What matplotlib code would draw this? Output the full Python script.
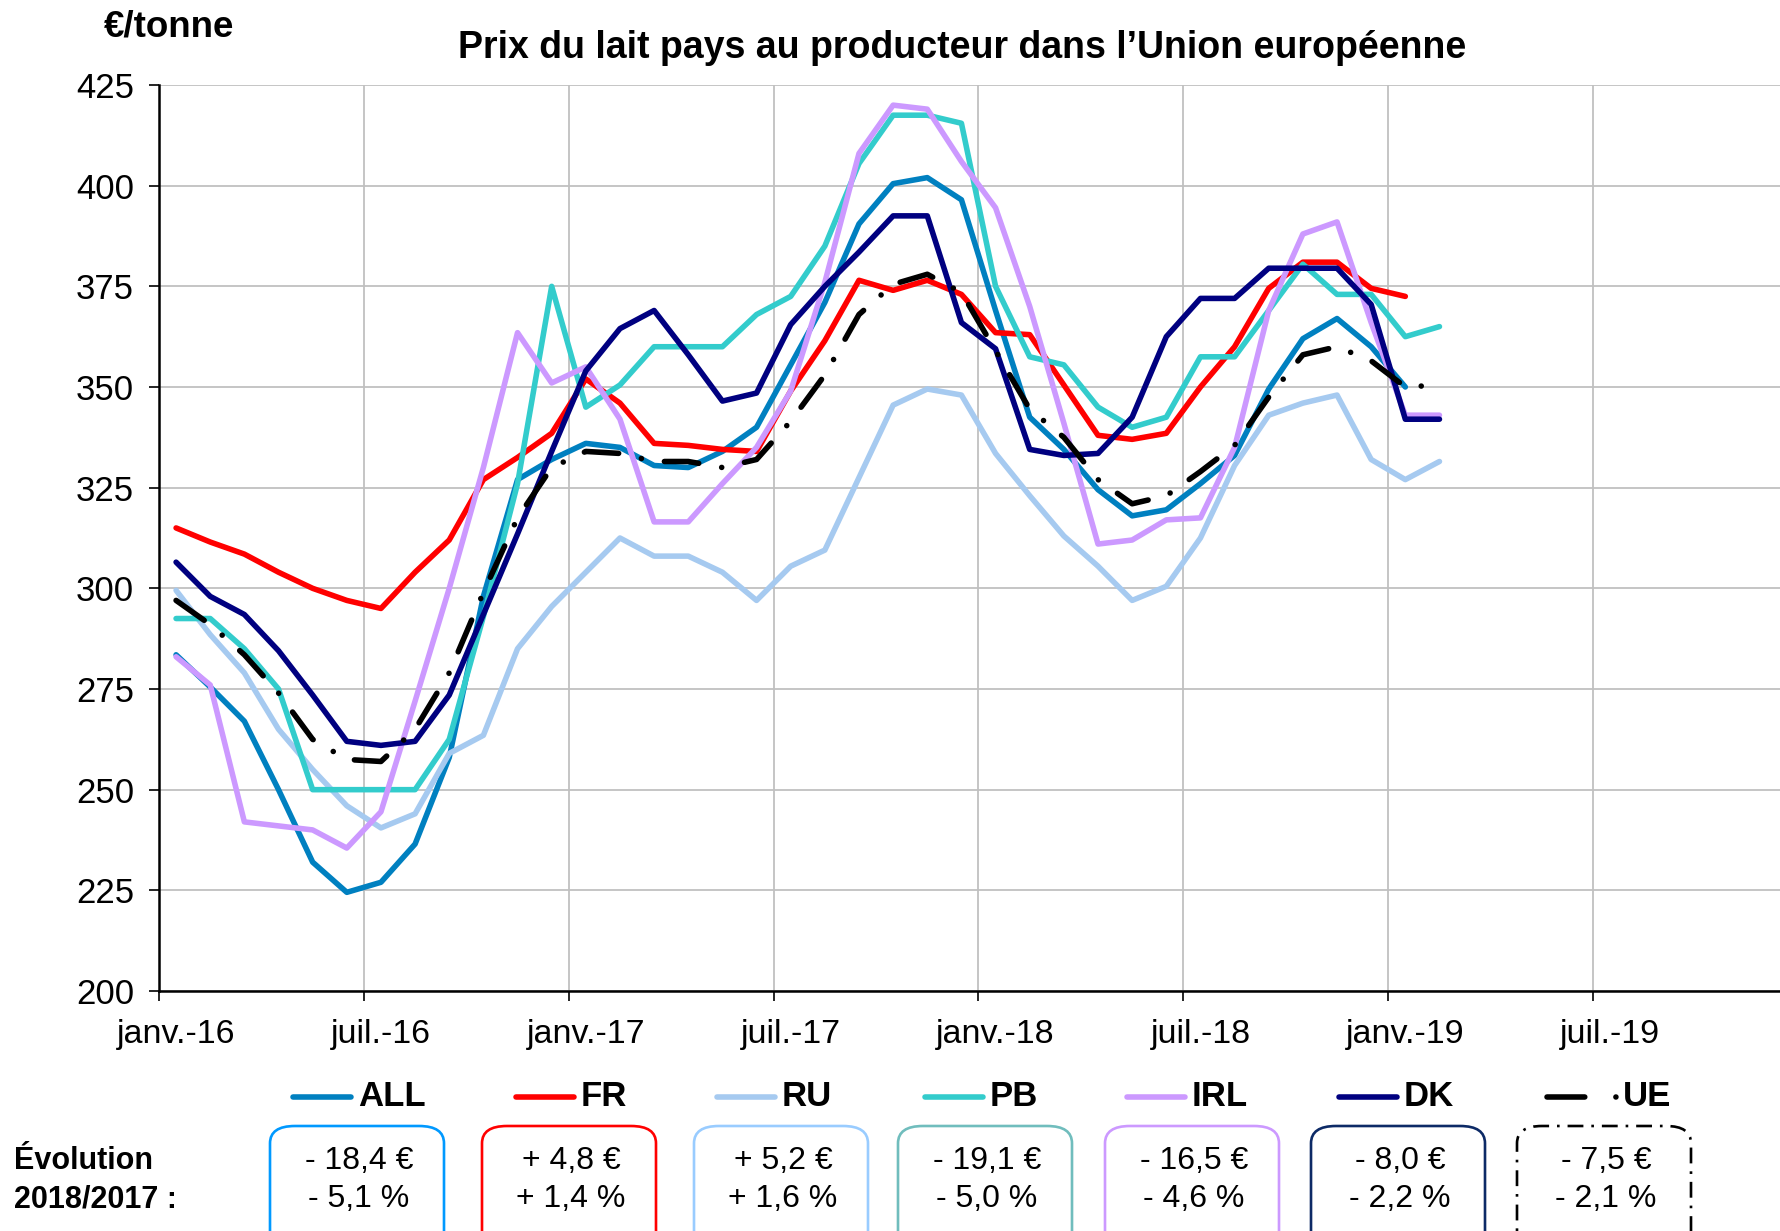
import matplotlib.pyplot as plt
from matplotlib.lines import Line2D
from matplotlib.patches import FancyBboxPatch
import numpy as np

plt.rcParams['font.family'] = ['Liberation Sans', 'DejaVu Sans']

# Monthly producer milk prices (€/tonne), janv.-16 onwards
ALL = [283.5, 275.5, 267, 250, 232, 224.5, 227, 236.5, 258, 298, 327, 332, 336, 335, 330.5, 330,
       334, 340, 355.5, 371, 390.5, 400.5, 402, 396.5, 369, 342.5, 334.5, 324.5, 318, 319.5,
       326, 333, 349.5, 362, 367, 360, 350]
FR = [315, 311.5, 308.5, 304, 300, 297, 295, 304, 312, 327, 332.5, 338.5, 352, 346, 336, 335.5,
      334.5, 334, 349, 361.5, 376.5, 374, 376.5, 373, 363.5, 363, 350.5, 338, 337, 338.5,
      350, 360, 374.5, 381, 381, 374.5, 372.5]
RU = [299.5, 288.5, 279, 265, 255, 246, 240.5, 244, 259, 263.5, 285, 295.5, 304, 312.5, 308, 308,
      304, 297, 305.5, 309.5, 327.5, 345.5, 349.5, 348, 333.5, 323, 313, 305.5, 297, 300.5,
      312.5, 330.5, 343, 346, 348, 332, 327, 331.5]
PB = [292.5, 292.5, 285, 275, 250, 250, 250, 250, 262.5, 293, 326, 375, 345, 350.5, 360, 360,
      360, 368, 372.5, 385, 405.5, 417.5, 417.5, 415.5, 375, 357.5, 355.5, 345, 340, 342.5,
      357.5, 357.5, 369, 380.5, 373, 373, 362.5, 365]
IRL = [283, 276, 242, 241, 240, 235.5, 244.5, 272, 300, 330, 363.5, 351, 355, 342, 316.5, 316.5,
       326, 335, 349, 376, 408, 420, 419, 406, 394.5, 370, 341, 311, 312, 317,
       317.5, 335, 369, 388, 391, 366, 343, 343]
DK = [306.5, 298, 293.5, 284.5, 273.5, 262, 261, 262, 273.5, 293.5, 313.5, 334, 354, 364.5, 369, 358,
      346.5, 348.5, 365.5, 375, 383.5, 392.5, 392.5, 366, 359.5, 334.5, 333, 333.5, 342.5, 362.5,
      372, 372, 379.5, 379.5, 379.5, 370.5, 342, 342]
UE = [297, 291, 283.5, 274, 262.5, 257.5, 257, 265, 279, 299, 317.5, 330, 334, 333.5, 331.5, 331.5,
      330, 332, 341.5, 353, 368, 375.5, 378, 373.5, 359, 344.5, 337.5, 327, 321, 323,
      329, 335.5, 347.5, 358, 360, 356.5, 350, 350.5]

series_names = ['ALL', 'FR', 'RU', 'PB', 'IRL', 'DK', 'UE']
series_vals = [ALL, FR, RU, PB, IRL, DK, UE]
colors = ['#0080C0', '#FF0000', '#A6CAF0', '#33CCCC', '#CC99FF', '#000080', '#000000']

tick_labels = ['janv.-16', 'juil.-16', 'janv.-17', 'juil.-17', 'janv.-18', 'juil.-18', 'janv.-19', 'juil.-19']

# Évolution 2018/2017
evol_eur = ['- 18,4 €', '+ 4,8 €', '+ 5,2 €', '- 19,1 €', '- 16,5 €', '- 8,0 €', '- 7,5 €']
evol_pct = ['- 5,1 %', '+ 1,4 %', '+ 1,6 %', '- 5,0 %', '- 4,6 %', '- 2,2 %', '- 2,1 %']
box_colors = ['#0099FF', '#FF0000', '#99CCFF', '#70BDBD', '#CC99FF', '#0D2A66', '#000000']

W, H = 1780, 1231
fx = lambda px: px / W
fy = lambda py: 1 - py / H

fig = plt.figure(figsize=(W / 100, H / 100), dpi=100)
ax = fig.add_axes([fx(159), fy(991), 1639 / W, (991 - 85) / H])

LW = 4.0
UE_DASH = (6.2, 4.2, 0.01, 4.2)
for name, vals, col in zip(series_names, series_vals, colors):
    x = np.arange(len(vals))
    if name == 'UE':
        ax.plot(x, vals, color=col, lw=LW, dashes=UE_DASH, dash_capstyle='round',
                solid_joinstyle='round', zorder=3)
    else:
        ax.plot(x, vals, color=col, lw=LW, solid_capstyle='round',
                solid_joinstyle='round', zorder=3)

ax.set_xlim(-0.5, 47.5)
ax.set_ylim(200, 425)
ax.set_yticks(np.arange(200, 426, 25))
ax.set_xticks(np.arange(-0.5, 48, 6))
ax.set_xticklabels([])
ax.set_xticks(np.arange(0, 43, 6), minor=True)
ax.set_xticklabels(tick_labels, minor=True)
ax.tick_params(axis='x', which='major', direction='out', length=7, width=1.2, color='black')
ax.tick_params(axis='x', which='minor', length=0, pad=20, labelsize=24.5)
ax.tick_params(axis='y', direction='out', length=7, width=1.2, pad=11, labelsize=25)

ax.grid(True, which='major', color='#C0C0C0', lw=1.3, zorder=0)
ax.set_axisbelow(True)
for s in ['top', 'right']:
    ax.spines[s].set_visible(False)
for s in ['left', 'bottom']:
    ax.spines[s].set_linewidth(1.8)
    ax.spines[s].set_color('black')

fig.text(fx(104), fy(27), '€/tonne', fontsize=26.5, fontweight='bold', ha='left', va='center')
fig.text(fx(962), fy(48), 'Prix du lait pays au producteur dans l\u2019Union européenne',
         fontsize=27, fontweight='bold', ha='center', va='center')

# legend row
leg_y = fy(1097)
line_x0 = [293, 516, 717, 925, 1127, 1339, 1547]
for name, col, x0 in zip(series_names, colors, line_x0):
    if name == 'UE':
        fig.add_artist(Line2D([fx(x0), fx(x0 + 70)], [leg_y, leg_y], color=col, lw=LW,
                              dashes=(6.8, 5.6, 0.01, 5), dash_capstyle='round'))
        fig.text(fx(x0 + 76), leg_y, name, fontsize=25, fontweight='bold', ha='left', va='center')
    else:
        fig.add_artist(Line2D([fx(x0), fx(x0 + 58)], [leg_y, leg_y], color=col, lw=LW,
                              solid_capstyle='round'))
        fig.text(fx(x0 + 65), leg_y, name, fontsize=25, fontweight='bold', ha='left', va='center')

# evolution boxes
fig.text(fx(14), fy(1161), 'Évolution', fontsize=22, fontweight='bold', ha='left', va='center')
fig.text(fx(14), fy(1199), '2018/2017 :', fontsize=22, fontweight='bold', ha='left', va='center')
box_cx = [357, 569, 781, 985, 1192, 1398, 1604]
bw = 174
for i, (cx, ec) in enumerate(zip(box_cx, box_colors)):
    ls = (0, (6, 3, 1, 3)) if i == 6 else '-'
    box = FancyBboxPatch((fx(cx - bw / 2), fy(1260)), bw / W, (1260 - 1126) / H,
                         boxstyle='round,pad=0,rounding_size=0.014', transform=fig.transFigure,
                         facecolor='none', edgecolor=ec, lw=1.9, linestyle=ls, clip_on=False)
    fig.add_artist(box)
    fig.text(fx(cx + 2), fy(1161), evol_eur[i], fontsize=23, ha='center', va='center')
    fig.text(fx(cx + 2), fy(1199), evol_pct[i], fontsize=23, ha='center', va='center')

fig.savefig('out.png', dpi=100)
